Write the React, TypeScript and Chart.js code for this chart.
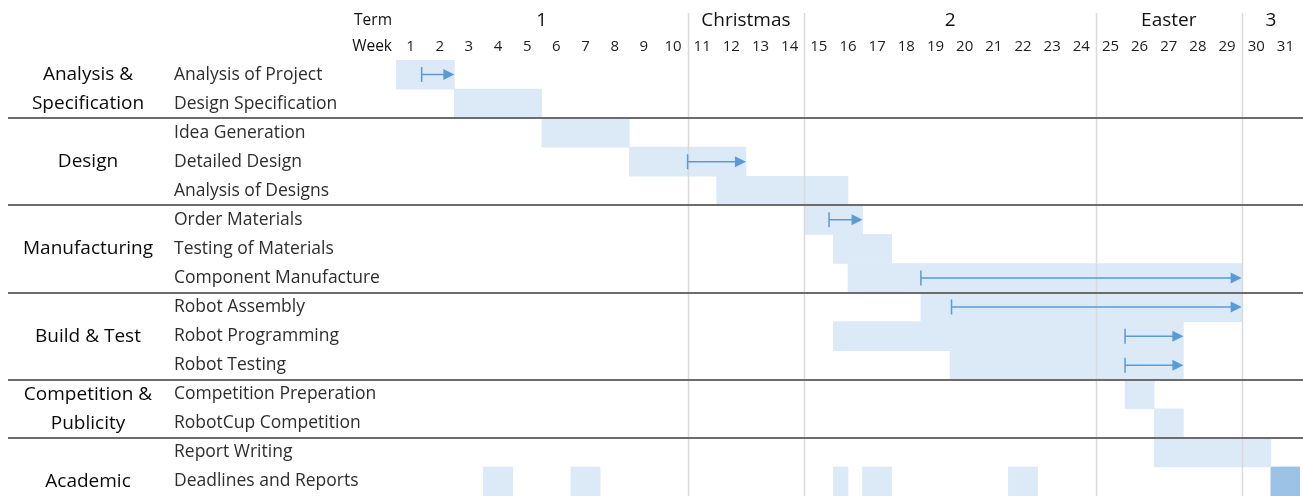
import { useEffect, useRef } from 'react';
import { Chart, registerables } from 'chart.js';

Chart.register(...registerables);

// Calendar header
const weekLabels = ['1', '2', '3', '4', '5', '6', '7', '8', '9', '10', '11', '12', '13', '14', '15', '16',
  '17', '18', '19', '20', '21', '22', '23', '24', '25', '26', '27', '28', '29', '30', '31'];
const terms = ['1', 'Christmas', '2', 'Easter', '3'];
const termEndWeek = [10, 14, 24, 29, 31];

// Work packages and the tasks inside them
const groupNames = [['Analysis &', 'Specification'], ['Design'], ['Manufacturing'], ['Build & Test'],
  ['Competition &', 'Publicity'], ['Academic']];
const groupSizes = [2, 3, 3, 3, 2, 2];
const tasks = [
  'Analysis of Project', 'Design Specification',
  'Idea Generation', 'Detailed Design', 'Analysis of Designs',
  'Order Materials', 'Testing of Materials', 'Component Manufacture',
  'Robot Assembly', 'Robot Programming', 'Robot Testing',
  'Competition Preperation', 'RobotCup Competition',
  'Report Writing', 'Deadlines and Reports',
];

// Planned span of each task (weeks elapsed from the start of week 1)
const taskStart = [0, 2, 5, 8, 11, 14, 15, 15.5, 18, 15, 19, 25, 26, 26];
const taskEnd = [2, 5, 8, 12, 15.5, 16, 17, 29, 29, 27, 27, 26, 27, 30];

// Deadline slots, and the final hand-in
const deadlineStart = [3, 6, 15, 16, 21];
const deadlineEnd = [4, 7, 15.5, 17, 22];
const finalDeadline = [30, 31];

// Slippage arrows: task row, original start, revised end
const slipTask = [0, 3, 5, 7, 8, 9, 10];
const slipFrom = [0.88, 10, 14.85, 18, 19.05, 25, 25];
const slipTo = [2, 12, 16, 29, 29, 27, 27];

const FONT = '"Open Sans", "Noto Sans", sans-serif';
const BAR = '#dce9f6';
const BAR_DARK = '#9cc3e6';
const ARROW = '#5b9bd5';

const ganttDecor = {
  id: 'ganttDecor',
  afterDatasetsDraw(chart: any) {
    const { ctx, scales, chartArea } = chart;
    const x = scales.x;
    const y = scales.y;
    const rowH = Math.abs(y.getPixelForValue(1) - y.getPixelForValue(0));
    ctx.save();

    // term boundaries
    ctx.strokeStyle = '#dadada';
    ctx.lineWidth = 1.5;
    termEndWeek.slice(0, -1).forEach((w) => {
      const px = Math.round(x.getPixelForValue(w)) + 0.5;
      ctx.beginPath();
      ctx.moveTo(px, 13);
      ctx.lineTo(px, chartArea.bottom);
      ctx.stroke();
    });

    // work-package separators
    ctx.strokeStyle = '#6c6c6c';
    ctx.lineWidth = 2;
    let acc = 0;
    groupSizes.slice(0, -1).forEach((n) => {
      acc += n;
      const py = Math.round(y.getPixelForValue(acc) - rowH / 2);
      ctx.beginPath();
      ctx.moveTo(8, py);
      ctx.lineTo(chart.width, py);
      ctx.stroke();
    });

    // slippage arrows
    ctx.strokeStyle = ARROW;
    ctx.fillStyle = ARROW;
    ctx.lineWidth = 1.5;
    slipTask.forEach((row, i) => {
      const py = y.getPixelForValue(row);
      const x0 = x.getPixelForValue(slipFrom[i]);
      const x1 = x.getPixelForValue(slipTo[i]);
      ctx.beginPath();
      ctx.moveTo(x0, py - 7.5);
      ctx.lineTo(x0, py + 7.5);
      ctx.moveTo(x0, py);
      ctx.lineTo(x1 - 10, py);
      ctx.stroke();
      ctx.beginPath();
      ctx.moveTo(x1, py);
      ctx.lineTo(x1 - 11, py - 5.5);
      ctx.lineTo(x1 - 11, py + 5.5);
      ctx.closePath();
      ctx.fill();
    });
    ctx.restore();
  },
  afterDraw(chart: any) {
    const { ctx, scales } = chart;
    const x = scales.x;
    const y = scales.y;
    ctx.save();
    ctx.textBaseline = 'middle';

    // header: term and week rows
    ctx.fillStyle = '#111';
    ctx.textAlign = 'right';
    ctx.font = `15.5px ${FONT}`;
    ctx.fillText('Term', 392, 21);
    ctx.fillText('Week', 392, 47);
    ctx.textAlign = 'center';
    ctx.font = `19px ${FONT}`;
    let prev = 0;
    terms.forEach((t, i) => {
      const mid = (x.getPixelForValue(prev) + x.getPixelForValue(termEndWeek[i])) / 2;
      ctx.fillText(t, mid, 21);
      prev = termEndWeek[i];
    });
    ctx.font = `15px ${FONT}`;
    ctx.fillStyle = '#1e1e1e';
    weekLabels.forEach((w, i) => {
      ctx.fillText(w, x.getPixelForValue(i + 0.5), 47);
    });

    // task names
    ctx.textAlign = 'left';
    ctx.font = `17.5px ${FONT}`;
    ctx.fillStyle = '#2e2e2e';
    tasks.forEach((t, i) => {
      ctx.fillText(t, 174, y.getPixelForValue(i));
    });

    // work-package names
    ctx.textAlign = 'center';
    ctx.font = `19px ${FONT}`;
    ctx.fillStyle = '#0a0a0a';
    let start = 0;
    groupNames.forEach((lines, g) => {
      const first = start + Math.ceil((groupSizes[g] - lines.length) / 2);
      lines.forEach((line, k) => {
        ctx.fillText(line, 88, y.getPixelForValue(first + k));
      });
      start += groupSizes[g];
    });
    ctx.restore();
  },
};

export default function App() {
  const canvasRef = useRef<HTMLCanvasElement | null>(null);

  useEffect(() => {
    const canvas = canvasRef.current;
    if (!canvas) return;

    const taskBars = taskStart.map((s, i) => ({ y: tasks[i], x: [s, taskEnd[i]] }));
    const deadlineBars = deadlineStart.map((s, i) => ({ y: tasks[tasks.length - 1], x: [s, deadlineEnd[i]] }));

    const chart = new Chart(canvas, {
      type: 'bar',
      data: {
        labels: tasks,
        datasets: [
          {
            label: 'Planned',
            data: [...taskBars, ...deadlineBars] as any,
            backgroundColor: BAR,
            grouped: false,
          },
          {
            label: 'Final hand-in',
            data: [{ y: tasks[tasks.length - 1], x: finalDeadline }] as any,
            backgroundColor: BAR_DARK,
            grouped: false,
          },
        ],
      },
      options: {
        indexAxis: 'y',
        responsive: false,
        animation: false,
        events: [],
        layout: { padding: { left: 396, right: 3, top: 60, bottom: 0 } },
        datasets: {
          bar: { barPercentage: 1, categoryPercentage: 1, borderWidth: 0, borderSkipped: false },
        },
        scales: {
          x: { type: 'linear', min: 0, max: 31, display: false },
          y: { type: 'category', labels: tasks, offset: true, display: false },
        },
        plugins: {
          legend: { display: false },
          tooltip: { enabled: false },
        },
      },
      plugins: [ganttDecor],
    });

    return () => chart.destroy();
  }, []);

  return (
    <div style={{ position: 'fixed', left: 0, top: 0, width: 1303, height: 496, background: '#fff' }}>
      <canvas ref={canvasRef} width={1303} height={496} />
    </div>
  );
}
